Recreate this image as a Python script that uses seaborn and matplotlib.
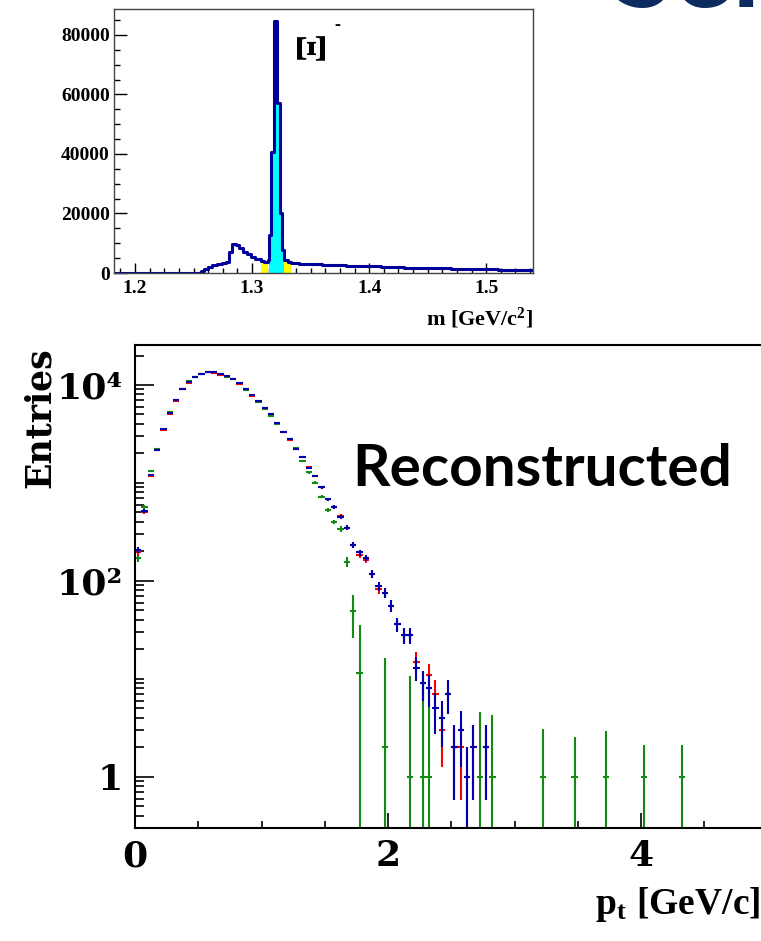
import numpy as np
import pandas as pd
import matplotlib
matplotlib.use("Agg")
import matplotlib.pyplot as plt
import seaborn as sns
from matplotlib.ticker import FixedLocator, FixedFormatter, MultipleLocator, NullFormatter

# ---------------- invariant mass histogram (upper panel) ----------------
mass_edges = [1.180, 1.256, 1.259, 1.262, 1.266, 1.270, 1.274, 1.278, 1.2805,
              1.283, 1.286, 1.289, 1.292, 1.2955, 1.299, 1.3025, 1.3073, 1.3105,
              1.3137, 1.3146, 1.3165, 1.3187, 1.3216, 1.3238, 1.3258, 1.3272,
              1.3303, 1.3333, 1.340, 1.35, 1.36, 1.37, 1.38, 1.39, 1.40, 1.41,
              1.42, 1.43, 1.44, 1.45, 1.46, 1.47, 1.48, 1.49, 1.50, 1.51, 1.52,
              1.53, 1.54]
mass_counts = [0, 600, 1300, 2000, 2600, 2900, 3200, 3700, 7000, 9600, 9300,
               8300, 7200, 6300, 5400, 4700, 4000, 3700, 4200, 12800, 40800,
               84800, 57200, 20000, 7700, 4400, 3600, 3300,
               3150, 2950, 2750, 2620, 2480, 2350, 2200, 2050, 1950, 1830,
               1720, 1620, 1520, 1430, 1350, 1280, 1200, 1130, 1060, 980]
mass_region = (["bg"] * 16 + ["sideband"] * 2 + ["bg"] + ["signal"] * 6
               + ["sideband"] * 2 + ["bg"] * 21)

# ---------------- transverse momentum spectra (lower panel) ----------------
pt_centers = [0.025, 0.075, 0.125, 0.175, 0.225, 0.275, 0.325, 0.375, 0.425,
              0.475, 0.525, 0.575, 0.625, 0.675, 0.725, 0.775, 0.825, 0.875,
              0.925, 0.975, 1.025, 1.075, 1.125, 1.175, 1.225, 1.275, 1.325,
              1.375, 1.425, 1.475, 1.525, 1.575, 1.625, 1.675, 1.725, 1.775,
              1.825, 1.875, 1.925, 1.975, 2.025, 2.075, 2.125, 2.175, 2.225,
              2.275, 2.325, 2.375, 2.425, 2.475, 2.525, 2.575, 2.625, 2.675,
              2.725, 2.775]
blue_counts = [207, 520, 1200, 2170, 3530, 5200, 7000, 9000, 10800, 12100,
               12900, 13500, 13450, 12900, 12300, 11400, 10400, 9050, 7900,
               6900, 5850, 5000, 4050, 3330, 2790, 2220, 1830, 1430, 1180, 905,
               683, 565, 447, 350, 233, 195, 171, 118, 88, 75, 56, 36, 28, 28,
               13, 9, 8, 5, 4, 7, 2, 3, 1, 2, 0, 2]
red_counts = [195, 505, 1180, 2170, 3450, 5050, 6850, 9000, 10600, 12100,
              13100, 13500, 13350, 12700, 12300, 11400, 10150, 9050, 7750,
              6900, 5850, 5000, 4050, 3330, 2750, 2220, 1830, 1460, 1180, 905,
              683, 565, 460, 350, 233, 185, 165, 118, 83, 75, 56, 36, 28, 28,
              15, 9, 11, 7, 3, 7, 2, 2, 1, 2, 0, 2]

green_centers = [0.025, 0.075, 0.125, 0.175, 0.225, 0.275, 0.325, 0.375, 0.425,
                 0.475, 0.525, 0.575, 0.625, 0.675, 0.725, 0.775, 0.825, 0.875,
                 0.925, 0.975, 1.025, 1.075, 1.125, 1.175, 1.225, 1.275, 1.325,
                 1.375, 1.425, 1.475, 1.525, 1.575, 1.625, 1.675, 1.725, 1.775,
                 1.975, 2.175, 2.275, 2.325, 2.725, 2.825, 3.225, 3.475, 3.725,
                 4.025, 4.325]
green_counts = [170, 570, 1330, 2200, 3550, 5300, 7100, 9000, 10900, 12200,
                12900, 13500, 13500, 12900, 12100, 11400, 10300, 8900, 7700,
                6700, 5700, 4800, 4000, 3300, 2800, 2250, 1690, 1280, 1010, 725,
                530, 400, 340, 157, 49, 11.4, 2, 1, 1, 1, 1, 1, 1, 1, 1, 1, 1]
green_errors = [13, 24, 37, 47, 60, 73, 84, 95, 104, 110, 114, 116, 116, 114,
                110, 107, 101, 94, 88, 82, 76, 70, 64, 58, 54, 48, 42, 37, 33,
                28, 24, 22, 24, 19, 23, 24, 14.5, 9.6, 8.4, 7.3, 3.6, 3.3, 2.1,
                1.55, 1.9, 1.1, 1.1]

BIN_HALF = 0.025
NAVY = "#000099"

sns.set_theme(style="ticks")
plt.rcParams["font.family"] = ["Liberation Serif", "DejaVu Serif"]
plt.rcParams["mathtext.fontset"] = "custom"
plt.rcParams["mathtext.rm"] = "Liberation Serif:bold"
plt.rcParams["mathtext.bf"] = "Liberation Serif:bold"
plt.rcParams["mathtext.it"] = "Liberation Serif:bold"

W, H = 761, 941
fig = plt.figure(figsize=(W / 100, H / 100), dpi=100)
fig.patch.set_facecolor("white")


def fx(px):
    return px / W


def fy(py):
    return 1 - py / H


# ---------------- upper panel ----------------
ax1 = fig.add_axes([fx(114), fy(273), (533 - 114) / W, (273 - 9) / H])
mass_edges_arr = np.asarray(mass_edges)
mass_centers = 0.5 * (mass_edges_arr[:-1] + mass_edges_arr[1:])
df_mass = pd.DataFrame({"mass": mass_centers, "count": mass_counts,
                        "region": mass_region})
df_fill = df_mass[df_mass["region"] != "bg"]
sns.histplot(data=df_fill, x="mass", weights="count", hue="region",
             bins=mass_edges, element="step", fill=True, alpha=1.0,
             linewidth=0, palette={"signal": "#00ffff", "sideband": "#ffff00"},
             legend=False, ax=ax1)
sns.histplot(data=df_mass, x="mass", weights="count", bins=mass_edges,
             element="step", fill=False, color=NAVY, linewidth=2.2, ax=ax1)
ax1.set_xlim(1.182, 1.54)
ax1.set_ylim(0, 88700)
ax1.set_xlabel("")
ax1.set_ylabel("")
ax1.xaxis.set_major_locator(FixedLocator([1.2, 1.3, 1.4, 1.5]))
ax1.xaxis.set_minor_locator(MultipleLocator(0.0125))
ax1.yaxis.set_major_locator(MultipleLocator(20000))
ax1.yaxis.set_minor_locator(MultipleLocator(5000))
ax1.xaxis.set_major_formatter(FixedFormatter(["1.2", "1.3", "1.4", "1.5"]))
ax1.tick_params(axis="both", which="both", direction="in", color="black",
                width=1.0, top=False, right=False)
ax1.tick_params(axis="y", which="major", length=9, pad=3)
ax1.tick_params(axis="y", which="minor", length=4.5)
ax1.tick_params(axis="x", which="major", length=7, pad=5)
ax1.tick_params(axis="x", which="minor", length=3.5)
for lab in ax1.get_xticklabels() + ax1.get_yticklabels():
    lab.set_fontfamily("Liberation Serif")
    lab.set_fontweight("bold")
    lab.set_fontsize(14)
    lab.set_color("black")
for sp in ax1.spines.values():
    sp.set_visible(True)
    sp.set_color("#444444")
    sp.set_linewidth(1.0)
ax1.set_facecolor("white")

fig.text(fx(314), fy(45), "Ξ", rotation=90, fontsize=31, fontweight="bold",
         family="Liberation Serif", ha="center", va="center", color="black")
fig.text(fx(337), fy(26), "-", fontsize=13, fontweight="bold",
         family="Liberation Serif", ha="center", va="center", color="black")
fig.text(fx(533), fy(318), r"m [GeV/c$^{2}$]", fontsize=16, fontweight="bold",
         family="Liberation Serif", ha="right", va="center", color="black")

# ---------------- lower panel ----------------
ax2 = fig.add_axes([fx(135), fy(828), 632.5 / W, (828 - 345) / H])
ax2.set_yscale("log")


def draw_points(x, y, err, color):
    x = np.asarray(x, float)
    y = np.asarray(y, float)
    err = np.asarray(err, float)
    keep = y > 0
    x, y, err = x[keep], y[keep], err[keep]
    lo = y - np.maximum(y - err, 0.05)
    ax2.errorbar(x, y, xerr=BIN_HALF, yerr=[lo, err], fmt="none",
                 ecolor=color, elinewidth=1.5, capsize=0)


draw_points(green_centers, green_counts, green_errors, "#138a13")
draw_points(pt_centers, red_counts, np.sqrt(red_counts), "#ff0000")
draw_points(pt_centers, blue_counts, np.sqrt(blue_counts), "#0000b0")

ax2.set_xlim(0, 5)
ax2.set_ylim(0.3, 25600)
ax2.xaxis.set_major_locator(FixedLocator([0, 2, 4]))
ax2.xaxis.set_minor_locator(FixedLocator([0.5, 1, 1.5, 2.5, 3, 3.5, 4.5]))
ax2.xaxis.set_major_formatter(FixedFormatter(["0", "2", "4"]))
ax2.yaxis.set_major_locator(FixedLocator([1, 1e2, 1e4]))
minor_y = [k * 10.0 ** n for n in range(-1, 5) for k in range(1, 10)]
minor_y = [v for v in minor_y if 0.3 <= v <= 25600 and v not in (1, 100, 10000)]
ax2.yaxis.set_minor_locator(FixedLocator(minor_y))
ax2.yaxis.set_major_formatter(FixedFormatter(["1", "10²", "10⁴"]))
ax2.yaxis.set_minor_formatter(NullFormatter())
ax2.tick_params(axis="both", which="both", direction="in", color="black",
                width=1.2, top=False, right=False)
ax2.tick_params(axis="x", which="major", length=10.8, pad=8)
ax2.tick_params(axis="x", which="minor", length=5.2)
ax2.tick_params(axis="y", which="major", length=13.7, pad=9)
ax2.tick_params(axis="y", which="minor", length=6.6)
for lab in ax2.get_xticklabels() + ax2.get_yticklabels():
    lab.set_fontfamily("DejaVu Serif")
    lab.set_fontweight("bold")
    lab.set_fontsize(26)
    lab.set_color("black")
for sp in ax2.spines.values():
    sp.set_visible(True)
    sp.set_color("black")
    sp.set_linewidth(1.5)
ax2.set_facecolor("white")

fig.text(fx(40), fy(418), "Entries", rotation=90, fontsize=25,
         fontweight="bold", family="DejaVu Serif", ha="center", va="center",
         color="black")
fig.text(fx(760), fy(905), r"$\mathbf{p_{t}\ [GeV/c]}$", fontsize=27,
         ha="right", va="center", color="black")
fig.text(fx(352), fy(469), "Reconstructed", fontsize=42, fontweight="bold",
         family="Lato", ha="left", va="center", color="black")
fig.text(fx(612), fy(7), "Sel", fontsize=80, fontweight="bold", family="Lato",
         ha="left", va="baseline", color="#0d2b5e")

fig.savefig("out.png", dpi=100, facecolor="white")
